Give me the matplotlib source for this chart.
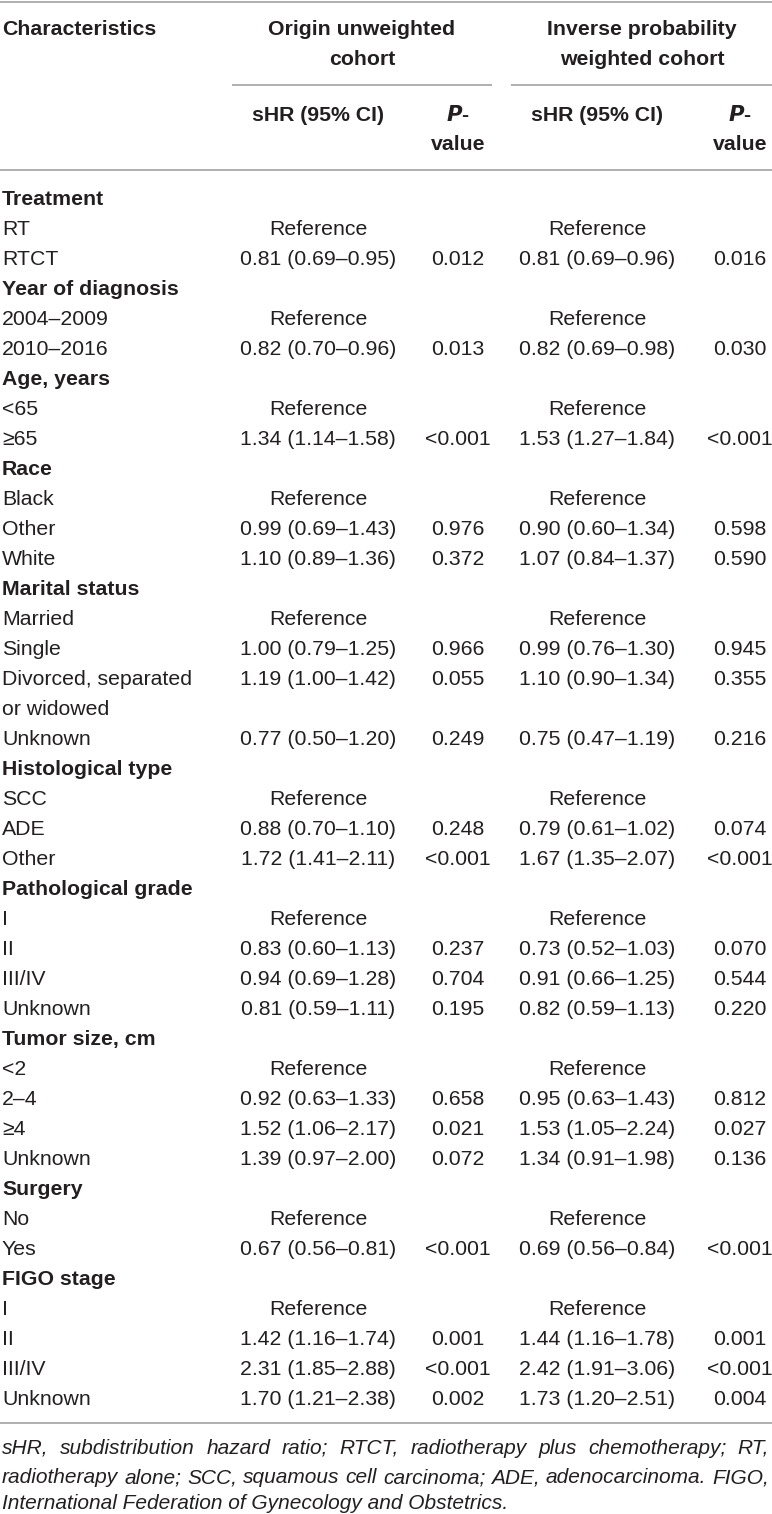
import matplotlib
matplotlib.use("Agg")
import matplotlib.pyplot as plt

plt.rcParams["font.family"] = ["Liberation Sans", "DejaVu Sans"]

# ---------------------------------------------------------------------------
# Table content
# ---------------------------------------------------------------------------

row_labels = [
    "Treatment", "RT", "RTCT",
    "Year of diagnosis", "2004–2009", "2010–2016",
    "Age, years", "<65", "≥65",
    "Race", "Black", "Other", "White",
    "Marital status", "Married", "Single", "Divorced, separated\nor widowed", "Unknown",
    "Histological type", "SCC", "ADE", "Other",
    "Pathological grade", "I", "II", "III/IV", "Unknown",
    "Tumor size, cm", "<2", "2–4", "≥4", "Unknown",
    "Surgery", "No", "Yes",
    "FIGO stage", "I", "II", "III/IV", "Unknown",
]
row_is_group = [
    True, False, False,
    True, False, False,
    True, False, False,
    True, False, False, False,
    True, False, False, False, False,
    True, False, False, False,
    True, False, False, False, False,
    True, False, False, False, False,
    True, False, False,
    True, False, False, False, False,
]

shr_unweighted = [
    "", "Reference", "0.81 (0.69–0.95)",
    "", "Reference", "0.82 (0.70–0.96)",
    "", "Reference", "1.34 (1.14–1.58)",
    "", "Reference", "0.99 (0.69–1.43)", "1.10 (0.89–1.36)",
    "", "Reference", "1.00 (0.79–1.25)", "1.19 (1.00–1.42)", "0.77 (0.50–1.20)",
    "", "Reference", "0.88 (0.70–1.10)", "1.72 (1.41–2.11)",
    "", "Reference", "0.83 (0.60–1.13)", "0.94 (0.69–1.28)", "0.81 (0.59–1.11)",
    "", "Reference", "0.92 (0.63–1.33)", "1.52 (1.06–2.17)", "1.39 (0.97–2.00)",
    "", "Reference", "0.67 (0.56–0.81)",
    "", "Reference", "1.42 (1.16–1.74)", "2.31 (1.85–2.88)", "1.70 (1.21–2.38)",
]
p_unweighted = [
    "", "", "0.012",
    "", "", "0.013",
    "", "", "<0.001",
    "", "", "0.976", "0.372",
    "", "", "0.966", "0.055", "0.249",
    "", "", "0.248", "<0.001",
    "", "", "0.237", "0.704", "0.195",
    "", "", "0.658", "0.021", "0.072",
    "", "", "<0.001",
    "", "", "0.001", "<0.001", "0.002",
]
shr_weighted = [
    "", "Reference", "0.81 (0.69–0.96)",
    "", "Reference", "0.82 (0.69–0.98)",
    "", "Reference", "1.53 (1.27–1.84)",
    "", "Reference", "0.90 (0.60–1.34)", "1.07 (0.84–1.37)",
    "", "Reference", "0.99 (0.76–1.30)", "1.10 (0.90–1.34)", "0.75 (0.47–1.19)",
    "", "Reference", "0.79 (0.61–1.02)", "1.67 (1.35–2.07)",
    "", "Reference", "0.73 (0.52–1.03)", "0.91 (0.66–1.25)", "0.82 (0.59–1.13)",
    "", "Reference", "0.95 (0.63–1.43)", "1.53 (1.05–2.24)", "1.34 (0.91–1.98)",
    "", "Reference", "0.69 (0.56–0.84)",
    "", "Reference", "1.44 (1.16–1.78)", "2.42 (1.91–3.06)", "1.73 (1.20–2.51)",
]
p_weighted = [
    "", "", "0.016",
    "", "", "0.030",
    "", "", "<0.001",
    "", "", "0.598", "0.590",
    "", "", "0.945", "0.355", "0.216",
    "", "", "0.074", "<0.001",
    "", "", "0.070", "0.544", "0.220",
    "", "", "0.812", "0.027", "0.136",
    "", "", "<0.001",
    "", "", "0.001", "<0.001", "0.004",
]

footnote_lines = [
    "sHR, subdistribution hazard ratio; RTCT, radiotherapy plus chemotherapy; RT,",
    "radiotherapy alone; SCC, squamous cell carcinoma; ADE, adenocarcinoma. FIGO,",
    "International Federation of Gynecology and Obstetrics.",
]

# ---------------------------------------------------------------------------
# Layout (pixel coordinates, y grows downward)
# ---------------------------------------------------------------------------

W, H = 772, 1514
FS = 15.3
FS_NOTE = 15.0
TXT = "#231f20"
RULE = "#9a9a9a"
LINE_H = 30.0
BASE = 7.0          # baseline offset from visual centre of a line

X_LABEL = 2
X_SHR1, X_P1 = 318, 458
X_SHR2, X_P2 = 597, 740
X_GRP1, X_GRP2 = 362, 642

fig = plt.figure(figsize=(W / 100, H / 100), dpi=100)
ax = fig.add_axes([0, 0, 1, 1])
ax.set_xlim(0, W)
ax.set_ylim(H, 0)
ax.axis("off")


def put(x, y, s, ha="left", weight="normal", style="normal", size=FS):
    return ax.text(x, y + BASE, s, ha=ha, va="baseline", fontsize=size,
                   fontweight=weight, fontstyle=style, color=TXT)


def rule(y, x0=0, x1=W):
    ax.plot([x0, x1], [y, y], color=RULE, lw=1.1, solid_capstyle="butt")


# header
rule(2)
put(X_LABEL, 28, "Characteristics", weight="bold")
put(X_GRP1, 28, "Origin unweighted", ha="center", weight="bold")
put(X_GRP1, 58, "cohort", ha="center", weight="bold")
put(X_GRP2, 28, "Inverse probability", ha="center", weight="bold")
put(X_GRP2, 58, "weighted cohort", ha="center", weight="bold")
rule(85, 232, 492)
rule(85, 511, W)
for xs, xp in [(X_SHR1, X_P1), (X_SHR2, X_P2)]:
    put(xs, 114, "sHR (95% CI)", ha="center", weight="bold")
    ax.text(xp, 114 + BASE, r"$\bfit{P}$" + "-", ha="center", va="baseline",
            fontsize=FS, fontweight="bold", color=TXT)
    put(xp, 143, "value", ha="center", weight="bold")
rule(170)

# body
y = 198
for label, grp, s1, p1, s2, p2 in zip(row_labels, row_is_group, shr_unweighted,
                                      p_unweighted, shr_weighted, p_weighted):
    parts = label.split("\n")
    for k, part in enumerate(parts):
        put(X_LABEL, y + k * LINE_H, part, weight="bold" if grp else "normal")
    put(X_SHR1, y, s1, ha="center")
    put(X_P1, y, p1, ha="center")
    put(X_SHR2, y, s2, ha="center")
    put(X_P2, y, p2, ha="center")
    y += LINE_H * len(parts)

rule(1423)

# footnote, justified like the journal layout
fig.canvas.draw()
renderer = fig.canvas.get_renderer()
inv = ax.transData.inverted()
note_y = [1447, 1476, 1502]
for i, (line, ny) in enumerate(zip(footnote_lines, note_y)):
    words = line.split(" ")
    if i == len(footnote_lines) - 1:
        put(X_LABEL, ny, line, style="italic", size=FS_NOTE)
        continue
    arts = [put(0, ny, w, style="italic", size=FS_NOTE) for w in words]
    widths = []
    for a in arts:
        bb = a.get_window_extent(renderer)
        (x0, _), (x1, _) = inv.transform([[bb.x0, 0], [bb.x1, 0]])
        widths.append(x1 - x0)
    gap = max(4.0, (W - 3 - X_LABEL - sum(widths)) / (len(words) - 1))
    x = X_LABEL
    for a, w in zip(arts, widths):
        a.set_x(x)
        x += w + gap

fig.savefig("out.png", dpi=100)
